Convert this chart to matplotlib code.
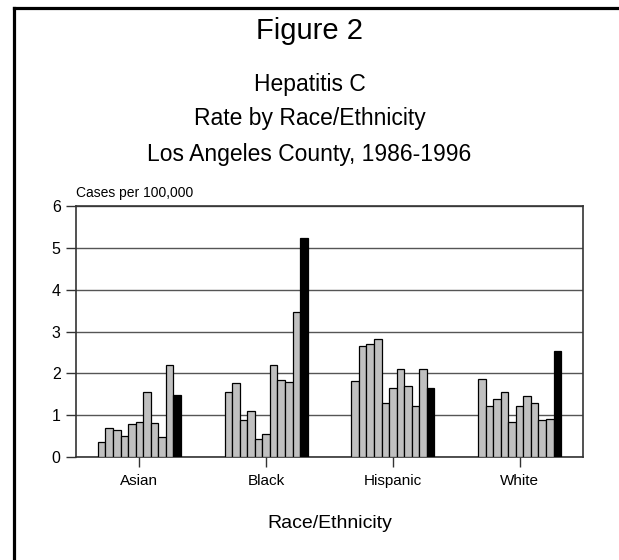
import matplotlib
matplotlib.use("Agg")
import matplotlib.pyplot as plt
from matplotlib.lines import Line2D

plt.rcParams['font.family'] = ['Liberation Sans', 'DejaVu Sans']

# Hepatitis C rate per 100,000, yearly 1986-1996, by group
groups = ["Asian", "Black", "Hispanic", "White"]
years = list(range(1986, 1997))
asian = [0.36, 0.70, 0.65, 0.51, 0.80, 0.84, 1.56, 0.81, 0.49, 2.21, 1.49]
black = [1.56, 1.78, 0.88, 1.11, 0.44, 0.55, 2.19, 1.83, 1.80, 3.47, 5.24]
hispanic = [1.81, 2.66, 2.69, 2.82, 1.30, 1.65, 2.10, 1.70, 1.22, 2.10, 1.65]
white = [1.87, 1.22, 1.38, 1.56, 0.84, 1.23, 1.46, 1.30, 0.88, 0.91, 2.54]
rates = [asian, black, hispanic, white]

fig = plt.figure(figsize=(6.19, 5.60), dpi=100)
ax = fig.add_axes([0.1228, 0.1839, 0.819, 0.4482])

n = len(years)
group_w = 0.655
bw = group_w / n
for gi, vals in enumerate(rates):
    for yi, v in enumerate(vals):
        x = gi - group_w / 2 + bw * (yi + 0.5)
        col = 'black' if yi == n - 1 else '#c0c0c0'
        ax.bar(x, v, width=bw, color=col, edgecolor='black', linewidth=0.9, zorder=3)

ax.set_xlim(-0.5, len(groups) - 0.5)
ax.set_ylim(0, 6)
ax.set_yticks(range(0, 7))
ax.set_xticks(range(len(groups)))
ax.set_xticklabels(groups, fontsize=11)
ax.tick_params(axis='y', labelsize=11.5, length=7, width=1, color='#333333', pad=4)
ax.tick_params(axis='x', length=7, width=1, color='#333333', pad=5)
ax.yaxis.grid(True, color='#555555', linewidth=1, zorder=0)
for s in ax.spines.values():
    s.set_color('#333333')
    s.set_linewidth(1.2)

ax.set_xlabel("Race/Ethnicity", fontsize=14, labelpad=20)

fig.text(0.5, 0.945, "Figure 2", ha='center', va='center', fontsize=21)
fig.text(0.5, 0.850, "Hepatitis C", ha='center', va='center', fontsize=16.5)
fig.text(0.5, 0.788, "Rate by Race/Ethnicity", ha='center', va='center', fontsize=16.5)
fig.text(0.5, 0.725, "Los Angeles County, 1986-1996", ha='center', va='center', fontsize=16.5)
fig.text(0.1228, 0.655, "Cases per 100,000", ha='left', va='center', fontsize=10)

# page frame: left and top edge
fig.add_artist(Line2D([0.0226, 0.0226], [0, 0.9857], color='black', linewidth=2.3,
                      transform=fig.transFigure))
fig.add_artist(Line2D([0.0226, 1.0], [0.9857, 0.9857], color='black', linewidth=2.3,
                      transform=fig.transFigure))

fig.savefig("out.png", dpi=100)
